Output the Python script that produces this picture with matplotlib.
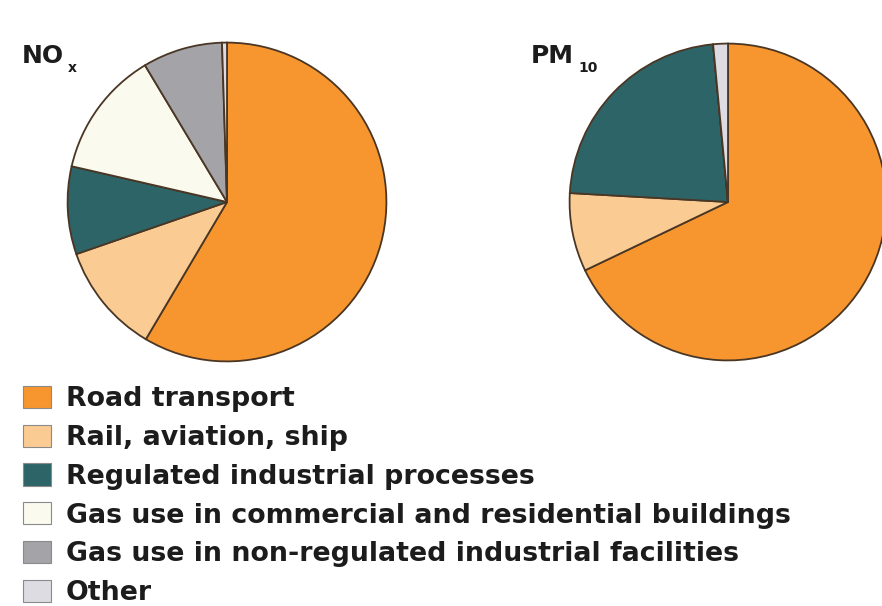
import matplotlib
matplotlib.use("Agg")
import matplotlib.pyplot as plt
from matplotlib.patches import Patch

# emission shares (%), clockwise from 12 o'clock
categories = ["Road transport",
              "Rail, aviation, ship",
              "Regulated industrial processes",
              "Gas use in commercial and residential buildings",
              "Gas use in non-regulated industrial facilities",
              "Other"]
nox_share = [58.5, 11.2, 8.9, 12.8, 8.1, 0.5]
pm10_share = [67.9, 8.0, 22.6, 0.0, 0.0, 1.5]

colors = ["#F7962F", "#FBCB94", "#2D6468", "#FBFAEE", "#A3A3A8", "#DCDCE2"]
edge = "#4A3624"
ink = "#1c1c1c"

W, H = 882, 606
plt.rcParams['font.family'] = ['DejaVu Sans']
fig = plt.figure(figsize=(W / 100, H / 100), dpi=100)


def pie_axes(cx, cy, r):
    # axes box in pixel coords -> figure fraction
    return fig.add_axes([(cx - r) / W, 1 - (cy + r) / H, 2 * r / W, 2 * r / H])


ax1 = pie_axes(227, 202, 161)
ax2 = pie_axes(728, 202, 160)

for ax, vals in [(ax1, nox_share), (ax2, pm10_share)]:
    ax.pie(vals, colors=colors, startangle=90, counterclock=False,
           wedgeprops=dict(edgecolor=edge, linewidth=1.3))
    ax.set_xlim(-1.01, 1.01)
    ax.set_ylim(-1.01, 1.01)
    ax.set_aspect("equal")

# titles with subscripts
fig.text(22 / W, 1 - 63 / H, "NO", fontsize=18, fontweight="bold", color=ink, va="baseline")
fig.text(68 / W, 1 - 72 / H, "x", fontsize=10, fontweight="bold", color=ink, va="baseline")
fig.text(531 / W, 1 - 63 / H, "PM", fontsize=18, fontweight="bold", color=ink, va="baseline")
fig.text(578 / W, 1 - 72 / H, "10", fontsize=10, fontweight="bold", color=ink, va="baseline")

handles = [Patch(facecolor=c, edgecolor="#8a8a8a", linewidth=0.8) for c in colors]
leg = fig.legend(handles, categories, loc="upper left",
                 bbox_to_anchor=(19 / W, 1 - 382 / H), frameon=False,
                 prop=dict(size=19.3, weight="bold"),
                 handlelength=1.05, handleheight=0.9, handletextpad=0.55,
                 labelspacing=0.46, borderpad=0.15, borderaxespad=0)
for t in leg.get_texts():
    t.set_color(ink)

fig.savefig("out.png", dpi=100)
